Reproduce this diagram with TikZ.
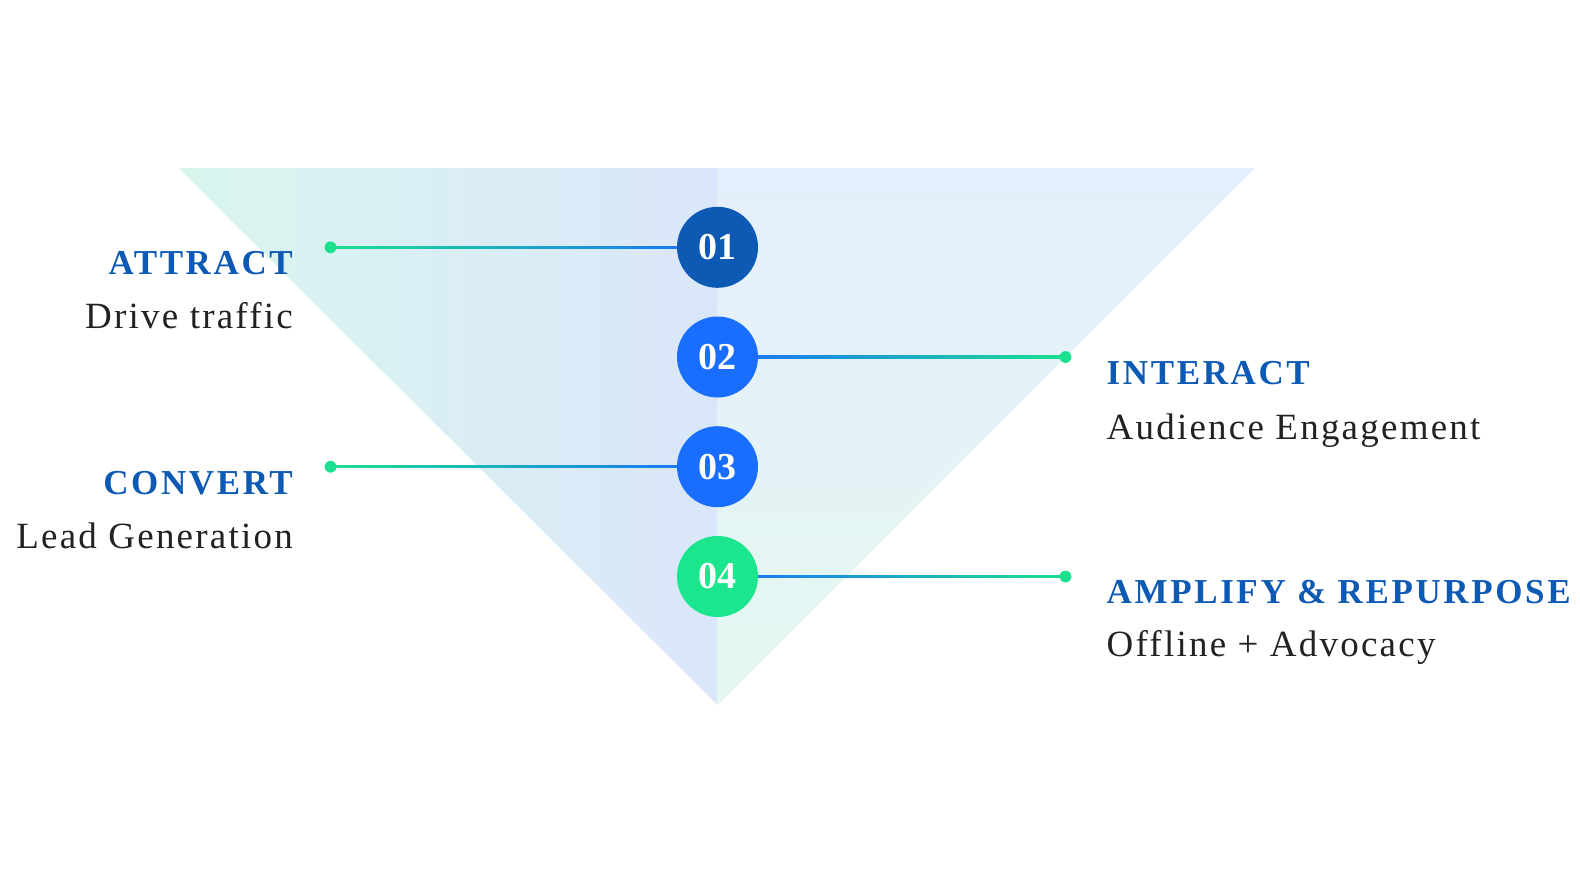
\documentclass[tikz,border=0pt]{standalone}
\usepackage{fontspec}
\setmainfont{Liberation Serif}
\newfontfamily\headfont{Liberation Serif}[LetterSpace=7.5]
\newfontfamily\bodyfont{Liberation Serif}[LetterSpace=6]
\usetikzlibrary{calc}
\definecolor{navy}{HTML}{0D5AB5}
\definecolor{brightblue}{HTML}{1A6EFF}
\definecolor{mint}{HTML}{1BE08E}
\definecolor{mintgreen}{HTML}{1BE68E}
\definecolor{leftmint}{HTML}{D9F6EE}
\definecolor{leftblue}{HTML}{DAE6FA}
\definecolor{rightblue}{HTML}{E4EEFC}
\definecolor{rightmint}{HTML}{E4F8F1}
\definecolor{bodygray}{HTML}{222222}
\begin{document}
\begin{tikzpicture}[x=1pt,y=-1pt,
  num/.style={circle, minimum size=81pt, inner sep=0pt, text=white,
    font=\fontsize{38}{40}\selectfont\bfseries},
  dotnode/.style={circle, fill=mint, minimum size=11.5pt, inner sep=0pt},
  head/.style={inner sep=0pt, text=navy, font=\headfont\bfseries\fontsize{35}{40}\selectfont},
  sub/.style={inner sep=0pt, text=bodygray, font=\bodyfont\fontsize{37}{40}\selectfont},
  lineL/.style={left color=mint, right color=brightblue},
  lineR/.style={left color=brightblue, right color=mint}]
\useasboundingbox (0,0) rectangle (1580,889);
\fill[white] (0,0) rectangle (1580,889);
% funnel halves
\shade[left color=leftmint, right color=leftblue] (178.5,168) -- (717.5,168) -- (717.5,705) -- cycle;
\shade[top color=rightblue, bottom color=rightmint] (717.5,168) -- (1255,168) -- (717.5,705) -- cycle;
% anchor points
\coordinate (p1) at (717.5,247.3);
\coordinate (p2) at (717.5,357);
\coordinate (p3) at (717.5,466.7);
\coordinate (p4) at (717.5,576.5);
% dots
\node[dotnode] (d1) at (330.5,247.3) {};
\node[dotnode] (d2) at (1065.5,357) {};
\node[dotnode] (d3) at (330.5,466.7) {};
\node[dotnode] (d4) at (1065.5,576.5) {};
% connectors
\shade[lineL] ($(d1.center)+(0,-1.2)$) rectangle ($(p1)+(0,1.2)$);
\shade[lineR] ($(p2)+(0,-1.2)$) rectangle ($(d2.center)+(0,1.2)$);
\shade[lineL] ($(d3.center)+(0,-1.2)$) rectangle ($(p3)+(0,1.2)$);
\shade[lineR] ($(p4)+(0,-1.2)$) rectangle ($(d4.center)+(0,1.2)$);
\node[dotnode] at (d1) {};
\node[dotnode] at (d2) {};
\node[dotnode] at (d3) {};
\node[dotnode] at (d4) {};
% circles
\node[num, fill=navy] (c1) at (p1) {01};
\node[num, fill=brightblue] (c2) at (p2) {02};
\node[num, fill=brightblue] (c3) at (p3) {03};
\node[num, fill=mintgreen] (c4) at (p4) {04};
% labels
\node[head, anchor=base east] (h1) at (293,274.3) {ATTRACT};
\node[sub, anchor=base east] (s1) at (293,328.3) {Drive traffic};
\node[head, anchor=base east] (h3) at (293,494) {CONVERT};
\node[sub, anchor=base east] (s3) at (293,548.3) {Lead Generation};
\node[head, anchor=base west] (h2) at (1106.5,384.3) {INTERACT};
\node[sub, anchor=base west] (s2) at (1106.5,439.3) {Audience Engagement};
\node[head, anchor=base west] (h4) at (1106.5,603.3) {AMPLIFY \& REPURPOSE};
\node[sub, anchor=base west] (s4) at (1106.5,656.7) {Offline + Advocacy};
\end{tikzpicture}
\end{document}
